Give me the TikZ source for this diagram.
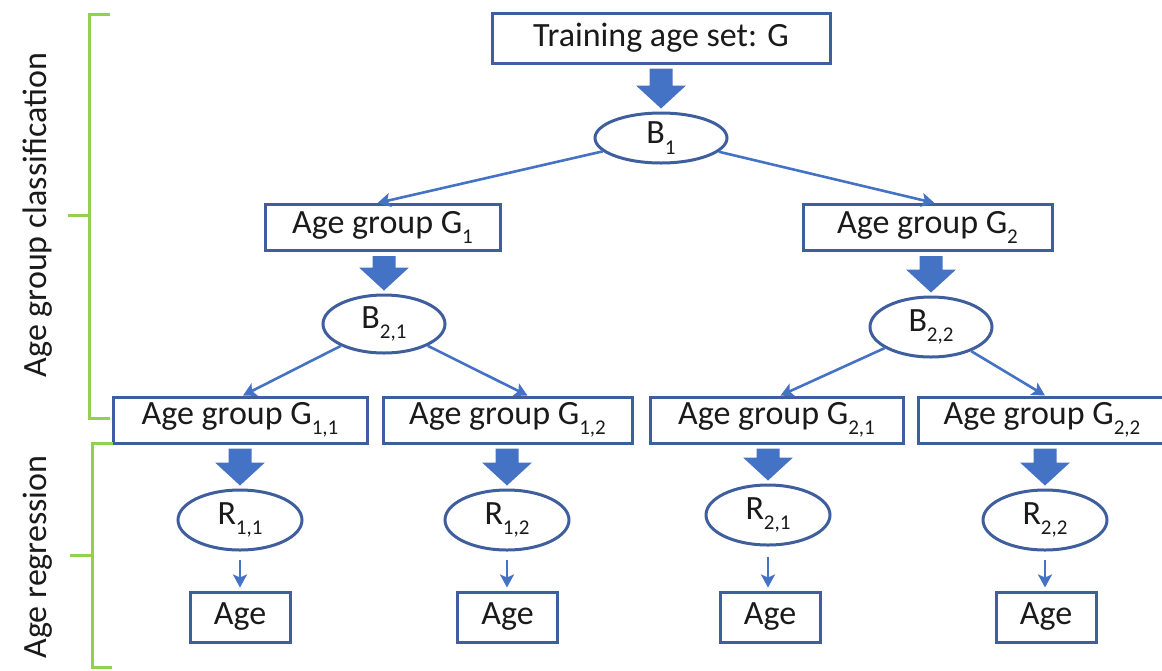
\documentclass[tikz,border=0pt]{standalone}
\usepackage{fontspec}
\setmainfont{Carlito}
\usetikzlibrary{arrows.meta,shapes.geometric,calc}
\definecolor{boxblue}{HTML}{3F5E9E}
\definecolor{arrblue}{HTML}{4472C4}
\definecolor{brgreen}{HTML}{92D050}
\definecolor{txt}{HTML}{1A1A1A}
\newcommand\mysub[1]{\raisebox{-0.3em}{\fontsize{21}{21}\selectfont #1}}
\newcommand\bigarr[2]{\fill[arrblue] let \p1=(#1.south), \p2=(#2.north) in
  (\x2-11.5pt,\y1-4pt) -- (\x2+11.5pt,\y1-4pt) -- (\x2+11.5pt,\y2+26pt) -- (\x2+25pt,\y2+26pt)
  -- (\x2,\y2+3pt) -- (\x2-25pt,\y2+26pt) -- (\x2-11.5pt,\y2+26pt) -- cycle;}
\tikzset{
  every node/.style={font=\fontsize{34}{40}\selectfont, text=txt, inner sep=0pt},
  boxnode/.style={draw=boxblue, line width=3pt, rectangle, minimum height=46pt},
  ellnode/.style={draw=boxblue, line width=3pt, ellipse, minimum width=124pt, minimum height=60pt},
  thin/.style={draw=arrblue, line width=2.6pt, -{Stealth[length=13pt,width=14pt,inset=3pt]}},
  brace/.style={draw=brgreen, line width=3pt},
  sidelabel/.style={rotate=90}
}
\begin{document}
\begin{tikzpicture}[x=1pt,y=-1pt]
\useasboundingbox (0,0) rectangle (1162,670);
% nodes
\node[boxnode, minimum width=338pt, minimum height=50pt] (top) at (661,38) {Training age set: G};
\node[ellnode, minimum width=132pt, minimum height=50pt] (B1) at (661,138) {B\mysub{1}};
\node[boxnode, minimum width=235pt] (G1) at (382.5,227.5) {Age group G\mysub{1}};
\node[boxnode, minimum width=249pt] (G2) at (927.5,227.5) {Age group G\mysub{2}};
\node[ellnode, minimum width=122pt, minimum height=58pt] (B21) at (384,324) {B\mysub{2,1}};
\node[ellnode, minimum width=122pt, minimum height=60pt] (B22) at (931,327) {B\mysub{2,2}};
\node[boxnode, minimum width=254pt] (G11) at (240,420) {Age group G\mysub{1,1}};
\node[boxnode, minimum width=249pt] (G12) at (507.5,420) {Age group G\mysub{1,2}};
\node[boxnode, minimum width=253pt] (G21) at (776.5,420) {Age group G\mysub{2,1}};
\node[boxnode, minimum width=248pt] (G22) at (1042,420) {Age group G\mysub{2,2}};
\node[ellnode] (R11) at (240,520) {R\mysub{1,1}};
\node[ellnode] (R12) at (507,520) {R\mysub{1,2}};
\node[ellnode] (R21) at (768,515) {R\mysub{2,1}};
\node[ellnode] (R22) at (1045,520) {R\mysub{2,2}};
\node[boxnode, minimum width=100pt, minimum height=50pt] (A11) at (240,617) {Age};
\node[boxnode, minimum width=100pt, minimum height=50pt] (A12) at (507.5,617) {Age};
\node[boxnode, minimum width=100pt, minimum height=50pt] (A21) at (770,617) {Age};
\node[boxnode, minimum width=100pt, minimum height=50pt] (A22) at (1046,617) {Age};
% side labels
\node[sidelabel] (lab1) at (38,215) {Age group classification};
\node[sidelabel] (lab2) at (38,557) {Age regression};
% thick arrows
\bigarr{top}{B1}
\bigarr{G1}{B21}
\bigarr{G2}{B22}
\bigarr{G11}{R11}
\bigarr{G12}{R12}
\bigarr{G21}{R21}
\bigarr{G22}{R22}
% thin arrows
\draw[thin] (B1) -- ($(G1.north)+(-5,0)$);
\draw[thin] (B1) -- ($(G2.north)+(7,0)$);
\draw[thin] (B21) -- ($(G11.north)+(3,0)$);
\draw[thin] (B21) -- ($(G12.north)+(20,0)$);
\draw[thin] (B22) -- ($(G21.north)+(4,0)$);
\draw[thin] (B22) -- ($(G22.north)+(3,0)$);
\draw[thin, shorten <=8pt, shorten >=3pt] (R11) -- (R11 |- A11.north);
\draw[thin, shorten <=8pt, shorten >=3pt] (R12) -- (R12 |- A12.north);
\draw[thin, shorten <=10pt, shorten >=3pt] (R21) -- (R21 |- A21.north);
\draw[thin, shorten <=8pt, shorten >=3pt] (R22) -- (R22 |- A22.north);
% brackets
\draw[brace] (110,14) -- (89,14) -- (89,418) -- (110,418);
\draw[brace] (89,215) -- (68,215);
\draw[brace] (113,443) -- (92,443) -- (92,667) -- (112,667);
\draw[brace] (92,555) -- (70,555);
\end{tikzpicture}
\end{document}
